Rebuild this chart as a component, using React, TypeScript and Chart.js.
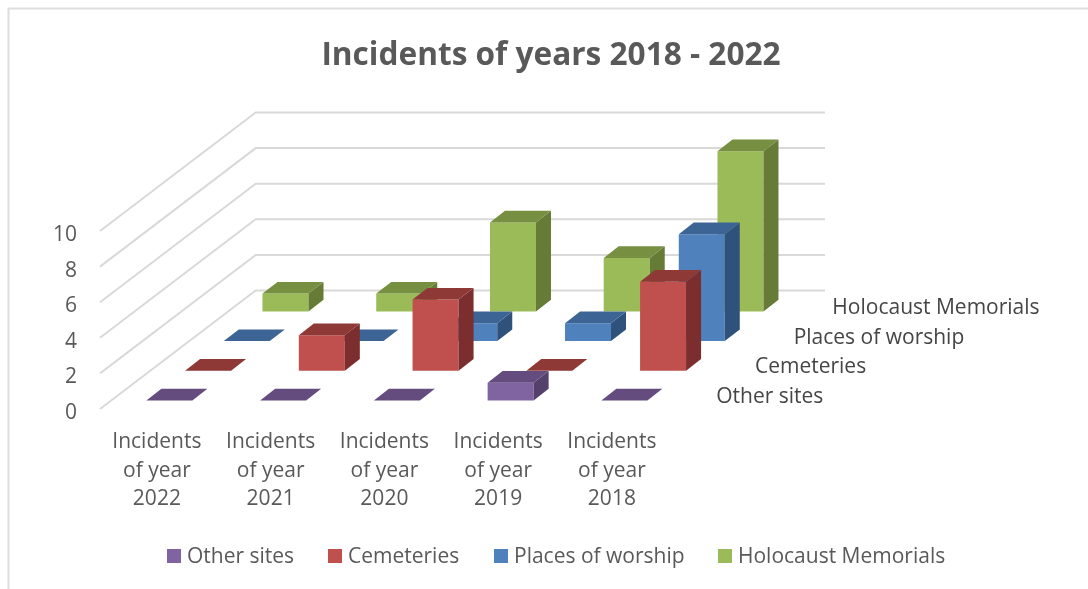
import React, { useEffect, useRef } from "react";
import { Chart, registerables } from "chart.js";

Chart.register(...registerables);

const chartTitle = "Incidents of years 2018 - 2022";
const categories = [
  ["Incidents", "of year", "2022"],
  ["Incidents", "of year", "2021"],
  ["Incidents", "of year", "2020"],
  ["Incidents", "of year", "2019"],
  ["Incidents", "of year", "2018"],
];
const seriesNames = ["Other sites", "Cemeteries", "Places of worship", "Holocaust Memorials"];
const otherSites = [0, 0, 0, 1, 0];
const cemeteries = [0, 2, 4, 0, 5];
const placesOfWorship = [0, 0, 1, 1, 6];
const holocaustMemorials = [1, 1, 5, 3, 9];
const frontColors = ["#8064A2", "#C0504D", "#4F81BD", "#9BBB59"];
const topColors = ["#644C7F", "#8F3937", "#3C6494", "#768F40"];
const sideColors = ["#54406B", "#7B2E2D", "#2F527D", "#667B36"];

const FONT = '"Open Sans", sans-serif';
const TEXT = "#595959";
const DEPTH_TEXT = "#454545";
const GRID = "#D9D9D9";

// 3D projection constants (pixel offsets of the oblique view)
const ROW_DX = 38.7;
const ROW_DY = -29.7;
const START_DX = 12.5;
const START_DY = -8.5;
const DEPTH_DX = 15;
const DEPTH_DY = -11.7;
const WALL_DX = 155.7;
const WALL_DY = -118.5;
const WALL_RIGHT = 825;

const poly = (ctx: CanvasRenderingContext2D, pts: number[][], fill: string) => {
  ctx.beginPath();
  pts.forEach((p, i) => (i ? ctx.lineTo(p[0], p[1]) : ctx.moveTo(p[0], p[1])));
  ctx.closePath();
  ctx.fillStyle = fill;
  ctx.fill();
};

const plugin3d = {
  id: "plugin3d",
  beforeDraw(chart: any) {
    const { ctx } = chart;
    ctx.save();
    ctx.strokeStyle = "#DEDEDE";
    ctx.lineWidth = 2;
    ctx.beginPath();
    ctx.moveTo(8.5, 589);
    ctx.lineTo(8.5, 8.5);
    ctx.lineTo(1088, 8.5);
    ctx.stroke();
    ctx.restore();
  },
  beforeDatasetsDraw(chart: any) {
    const { ctx, scales, chartArea } = chart;
    ctx.save();
    ctx.strokeStyle = GRID;
    ctx.lineWidth = 2;
    scales.y.ticks.forEach((t: any) => {
      const y = scales.y.getPixelForValue(t.value);
      ctx.beginPath();
      ctx.moveTo(chartArea.left, y);
      ctx.lineTo(chartArea.left + WALL_DX, y + WALL_DY);
      ctx.lineTo(WALL_RIGHT, y + WALL_DY);
      ctx.stroke();
    });
    ctx.restore();
  },
  beforeDatasetDraw(chart: any, args: any) {
    const { ctx } = chart;
    const i = args.index;
    const ox = START_DX + i * ROW_DX;
    const oy = START_DY + i * ROW_DY;
    const meta = chart.getDatasetMeta(i);
    ctx.save();
    meta.data.forEach((bar: any) => {
      const l = bar.x - bar.width / 2 + ox;
      const r = bar.x + bar.width / 2 + ox;
      const t = bar.y + oy;
      const b = bar.base + oy;
      if (b - t > 0.5) {
        poly(ctx, [[l, t], [r, t], [r, b], [l, b]], frontColors[i]);
        poly(ctx, [[r, t], [r + DEPTH_DX, t + DEPTH_DY], [r + DEPTH_DX, b + DEPTH_DY], [r, b]], sideColors[i]);
      }
      poly(ctx, [[l, t], [l + DEPTH_DX, t + DEPTH_DY], [r + DEPTH_DX, t + DEPTH_DY], [r, t]], topColors[i]);
    });
    ctx.restore();
    return false;
  },
  afterDraw(chart: any) {
    const { ctx, chartArea } = chart;
    ctx.save();
    ctx.font = `21px ${FONT}`;
    ctx.textBaseline = "middle";
    ctx.textAlign = "left";
    // depth-axis series names
    ctx.fillStyle = DEPTH_TEXT;
    seriesNames.forEach((name, i) => {
      ctx.fillText(name, chartArea.right + 47.5 + i * 38.7, 397 + i * ROW_DY);
    });
    // legend
    const legendY = 556;
    const xs = [167, 328, 494, 718];
    seriesNames.forEach((name, i) => {
      ctx.fillStyle = frontColors[i];
      ctx.fillRect(xs[i], legendY - 7, 14, 14);
      ctx.fillStyle = TEXT;
      ctx.fillText(name, xs[i] + 20, legendY + 1);
    });
    ctx.restore();
  },
};

export default function App() {
  const ref = useRef<HTMLCanvasElement>(null);
  useEffect(() => {
    document.body.style.margin = "0";
    const chart = new Chart(ref.current!, {
      type: "bar",
      plugins: [plugin3d],
      data: {
        labels: categories as any,
        datasets: [otherSites, cemeteries, placesOfWorship, holocaustMemorials].map((data, i) => ({
          label: seriesNames[i],
          data,
          backgroundColor: frontColors[i],
          barThickness: 46,
          grouped: false,
        })) as any,
      },
      options: {
        responsive: false,
        animation: false,
        layout: { autoPadding: false, padding: { left: 14, right: 0, top: 0, bottom: 0 } },
        plugins: {
          legend: { display: false },
          tooltip: { enabled: false },
          title: {
            display: true,
            text: chartTitle,
            color: TEXT,
            font: { family: FONT, size: 31.6, weight: "bold", lineHeight: 1.2 },
            padding: { top: 37, bottom: 156.1 },
          },
        },
        scales: {
          x: {
            grid: { display: false },
            border: { display: false },
            afterFit: (s: any) => { s.height = 180; },
            ticks: {
              color: TEXT,
              autoSkip: false,
              maxRotation: 0,
              minRotation: 0,
              padding: 11,
              font: { family: FONT, size: 21, lineHeight: 1.357 },
            },
          },
          y: {
            min: 0,
            max: 10,
            grid: { display: false, drawTicks: false },
            border: { display: false },
            afterFit: (s: any) => { s.width = 86; },
            ticks: {
              stepSize: 2,
              color: TEXT,
              padding: 23,
              labelOffset: 4,
              font: { family: FONT, size: 21 },
            },
          },
          spacer: {
            position: "right",
            grid: { display: false },
            border: { display: false },
            ticks: { display: false },
            afterFit: (s: any) => { s.width = 419.25; },
          },
        },
      } as any,
    });
    return () => chart.destroy();
  }, []);
  return (
    <div style={{ width: 1088, height: 589, background: "#fff" }}>
      <canvas ref={ref} width={1088} height={589} style={{ display: "block" }} />
    </div>
  );
}
